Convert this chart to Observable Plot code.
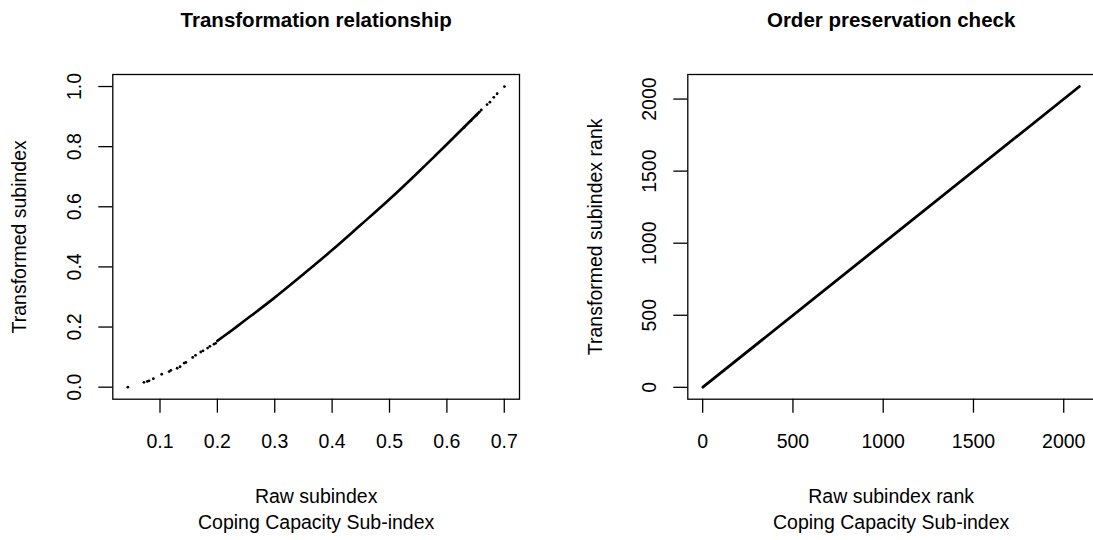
<!DOCTYPE html>
<html>
<head>
<meta charset="utf-8">
<script src="https://cdn.jsdelivr.net/npm/d3@7"></script>
<script src="https://cdn.jsdelivr.net/npm/@observablehq/plot@0.6"></script>
<style>
  html, body { margin: 0; padding: 0; background: white; overflow: hidden; }
  #wrap { display: flex; flex-direction: row; width: 1093px; height: 540px; overflow: hidden; }
  #wrap svg { flex: none; }
</style>
</head>
<body>
<div id="wrap"></div>
<script>
// ---------- Data ----------
// Left panel: transformation relationship
const sparseRaw = [0.044, 0.072, 0.078, 0.081, 0.0885, 0.103, 0.116, 0.119, 0.130, 0.135, 0.142, 0.145, 0.157, 0.162, 0.171, 0.175, 0.183, 0.187, 0.194, 0.197,
                   0.630, 0.642, 0.652, 0.660, 0.670, 0.675, 0.6818, 0.6876, 0.7003];
const sparseTransformed = [0.000, 0.016, 0.019, 0.021, 0.028, 0.043, 0.052, 0.056, 0.063, 0.068, 0.080, 0.082, 0.099, 0.106, 0.117, 0.121, 0.130, 0.136, 0.143, 0.146,
                           0.864, 0.886, 0.905, 0.922, 0.940, 0.948, 0.964, 0.976, 1.000];
const denseRaw = [0.200, 0.226, 0.250, 0.296, 0.350, 0.400, 0.450, 0.500, 0.550, 0.578, 0.600, 0.657];
const denseTransformed = [0.154, 0.190, 0.225, 0.292, 0.376, 0.456, 0.540, 0.625, 0.715, 0.767, 0.808, 0.916];

// Right panel: order preservation (rank vs rank)
const rawRank = [1, 2087];
const transformedRank = [1, 2087];

// Tick labels
const leftXTicks = [0.1, 0.2, 0.3, 0.4, 0.5, 0.6, 0.7];
const leftYTicks = [0.0, 0.2, 0.4, 0.6, 0.8, 1.0];
const rightXTicks = [0, 500, 1000, 1500, 2000];
const rightYTicks = [0, 500, 1000, 1500, 2000];

// Texts
const titles = ["Transformation relationship", "Order preservation check"];
const xLabels = ["Raw subindex", "Raw subindex rank"];
const subLabel = "Coping Capacity Sub-index";
const yLabels = ["Transformed subindex", "Transformed subindex rank"];

// ---------- Build tables ----------
const sparse = sparseRaw.map((x, i) => ({x, y: sparseTransformed[i]}));
const dense = denseRaw.map((x, i) => ({x, y: denseTransformed[i]}));
const ranks = rawRank.map((x, i) => ({x, y: transformedRank[i]}));

const FONT = "'Liberation Sans', Arial, Helvetica, sans-serif";
const FS = 19.5;

function panel({width, marginLeft, marginRight, xDomain, yDomain, xTicks, yTicks, xFmt, yFmt, title, xLabel, yLabel, yLabelDx, dataMarks}) {
  return Plot.plot({
    width,
    height: 540,
    marginLeft,
    marginRight,
    marginTop: 74,
    marginBottom: 540 - 398.7,
    style: {fontFamily: FONT, fontSize: FS + "px", color: "black", background: "white", overflow: "visible"},
    x: {domain: xDomain},
    y: {domain: yDomain},
    marks: [
      ...dataMarks,
      Plot.frame({stroke: "black", strokeWidth: 1.3}),
      Plot.axisX({anchor: "bottom", ticks: xTicks, tickFormat: xFmt, tickSize: 14, tickPadding: 20.5,
                  fontSize: FS, strokeWidth: 1.3, label: null}),
      Plot.axisY({anchor: "left", ticks: yTicks, tickFormat: yFmt, tickSize: 14, tickPadding: 18,
                  tickRotate: -90, textAnchor: "middle", lineAnchor: "bottom",
                  fontSize: FS, strokeWidth: 1.3, label: null}),
      Plot.text([title], {text: d => d, frameAnchor: "top", dy: -48, lineAnchor: "bottom",
                          fontSize: 20.5, fontWeight: "bold"}),
      Plot.text([xLabel], {text: d => d, frameAnchor: "bottom", dy: 103.3, lineAnchor: "bottom", fontSize: FS}),
      Plot.text([subLabel], {text: d => d, frameAnchor: "bottom", dy: 129.3, lineAnchor: "bottom", fontSize: FS}),
      Plot.text([yLabel], {text: d => d, frameAnchor: "left", dx: yLabelDx, rotate: -90, lineAnchor: "bottom",
                           textAnchor: "middle", fontSize: FS})
    ]
  });
}

const leftX = [sparseRaw[0] - 0.04 * (sparseRaw[sparseRaw.length - 1] - sparseRaw[0]),
               sparseRaw[sparseRaw.length - 1] + 0.04 * (sparseRaw[sparseRaw.length - 1] - sparseRaw[0])];
const leftY = [-0.04, 1.04];
const rr = rawRank[1] - rawRank[0];
const rightX = [rawRank[0] - 0.04 * rr, rawRank[1] + 0.04 * rr];
const rightY = [transformedRank[0] - 0.04 * rr, transformedRank[1] + 0.04 * rr];

const left = panel({
  width: 546, marginLeft: 112.3, marginRight: 27,
  xDomain: leftX, yDomain: leftY,
  xTicks: leftXTicks, yTicks: leftYTicks,
  xFmt: d3.format(".1f"), yFmt: d3.format(".1f"),
  title: titles[0], xLabel: xLabels[0], yLabel: yLabels[0], yLabelDx: -87,
  dataMarks: [
    Plot.line(dense, {x: "x", y: "y", stroke: "black", strokeWidth: 2.6, curve: "natural"}),
    Plot.dot(sparse, {x: "x", y: "y", r: 1.4, fill: "black", stroke: "none"})
  ]
});

const right = panel({
  width: 550, marginLeft: 141.3, marginRight: 2,
  xDomain: rightX, yDomain: rightY,
  xTicks: rightXTicks, yTicks: rightYTicks,
  xFmt: d => String(d), yFmt: d => String(d),
  title: titles[1], xLabel: xLabels[1], yLabel: yLabels[1], yLabelDx: -86,
  dataMarks: [
    Plot.line(ranks, {x: "x", y: "y", stroke: "black", strokeWidth: 2.8})
  ]
});

document.getElementById("wrap").append(left, right);
</script>
</body>
</html>
